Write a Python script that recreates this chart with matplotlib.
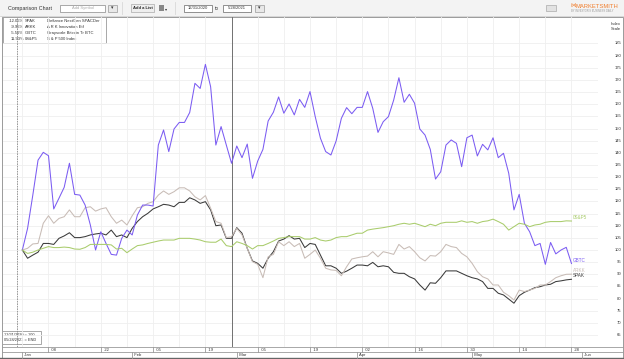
import numpy as np
import pandas as pd
import matplotlib.pyplot as plt
from matplotlib.patches import Rectangle
from matplotlib.transforms import blended_transform_factory

# weekday slots Jan 1 .. May 28 2021 (base 12/31/2020 = 100)
dates = pd.bdate_range('2021-01-01', '2021-05-28')

gbtc = [100, 108.9, 122.6, 137.0, 140.2, 138.8, 116.9, 121.3, 125.8, 135.7,
        122.9, 122.6, 118.5, 110.3, 100.0, 107.5, 102.7, 98.2, 97.9, 104.8,
        108.2, 106.2, 114.4, 118.5, 118.5, 118.1, 143.2, 149.4, 140.5, 149.8,
        152.5, 152.5, 156.6, 168.6, 166.5, 176.4, 167.2, 143.2, 150.8, 143.2,
        135.7, 142.8, 138.0, 143.6, 129.5, 136.6, 141.4, 153.1, 156.7, 163.0,
        156.3, 160.1, 155.6, 162.0, 158.7, 165.2, 154.9, 146.0, 140.5, 139.1,
        144.9, 154.2, 158.6, 156.1, 158.7, 158.7, 165.2, 158.3, 148.4, 152.8,
        154.9, 161.7, 170.9, 160.8, 164.1, 160.4, 149.8, 147.3, 141.4, 129.2,
        132.2, 143.2, 145.3, 143.9, 134.3, 146.2, 147.3, 138.7, 143.5, 141.2,
        146.2, 138.0, 139.8, 131.6, 116.5, 122.9, 111.0, 107.5, 101.8, 102.7,
        94.1, 103.1, 98.4, 100.0, 101.1, 94.44]

arkk = [100, 100.7, 102.5, 102.7, 111.0, 114.1, 111.0, 113.0, 113.7, 116.5,
        113.7, 113.7, 117.4, 117.8, 116.0, 116.9, 117.4, 113.7, 111.0, 112.3,
        110.3, 114.1, 117.4, 117.8, 119.2, 119.9, 122.6, 124.3, 122.9, 124.0,
        125.6, 125.6, 124.3, 121.9, 120.6, 122.4, 117.2, 111.7, 111.0, 105.1,
        105.5, 108.9, 106.2, 100.7, 95.2, 94.1, 88.6, 97.2, 98.2, 103.4,
        101.8, 103.4, 101.4, 102.7, 96.6, 98.2, 100.0, 96.6, 92.5, 91.8,
        91.6, 89.4, 93.1, 96.3, 96.8, 97.2, 97.5, 99.3, 97.2, 99.3,
        98.8, 98.2, 102.3, 100.4, 101.4, 99.3, 96.8, 95.5, 97.7, 97.5,
        99.3, 102.3, 101.4, 101.0, 98.6, 97.2, 94.5, 91.1, 89.0, 88.1,
        85.6, 85.6, 82.6, 81.2, 79.4, 83.5, 82.9, 83.5, 84.2, 85.6,
        85.6, 87.0, 88.6, 89.4, 90.0, 90.05]

spak = [100, 96.6, 97.9, 99.1, 102.7, 102.7, 102.3, 104.8, 105.8, 107.1,
        105.1, 105.1, 105.5, 106.2, 106.6, 106.9, 106.2, 108.2, 105.5, 106.2,
        105.1, 108.9, 111.7, 113.7, 115.1, 116.9, 117.8, 118.8, 118.5, 117.8,
        119.6, 119.6, 121.5, 120.6, 119.2, 119.9, 116.5, 110.0, 110.3, 104.8,
        104.8, 109.2, 106.9, 100.7, 95.5, 94.5, 92.5, 96.6, 99.3, 103.7,
        104.5, 105.9, 104.5, 104.8, 101.0, 102.7, 102.3, 97.9, 93.5, 93.5,
        92.5, 90.4, 91.3, 92.5, 93.8, 93.8, 93.5, 94.9, 93.1, 93.5,
        93.1, 90.8, 90.4, 90.4, 89.0, 88.1, 85.6, 83.5, 86.5, 86.3,
        88.6, 91.4, 91.4, 91.4, 90.4, 89.4, 88.6, 88.1, 87.0, 84.2,
        84.2, 82.2, 81.5, 79.8, 78.1, 81.2, 82.6, 83.5, 84.5, 84.9,
        85.6, 85.9, 87.0, 87.3, 87.7, 87.95]

spx = [100, 98.6, 99.1, 100.0, 100.7, 101.4, 101.0, 101.0, 101.2, 101.0,
       100.4, 100.3, 101.0, 102.3, 102.3, 102.3, 102.3, 102.1, 100.4, 100.7,
       98.9, 100.4, 101.8, 102.1, 102.7, 103.2, 103.7, 104.1, 104.1, 104.1,
       104.8, 104.8, 104.8, 104.5, 104.1, 103.4, 103.2, 103.2, 104.5, 101.8,
       101.4, 103.4, 102.7, 101.8, 100.4, 101.8, 101.8, 102.7, 103.7, 104.8,
       105.1, 105.5, 105.5, 105.5, 104.5, 104.5, 105.1, 104.1, 103.7, 104.1,
       105.1, 105.5, 105.5, 106.2, 106.9, 106.9, 108.2, 108.6, 108.9, 109.2,
       109.6, 110.0, 110.6, 111.0, 110.6, 111.0, 110.3, 109.6, 110.6, 110.0,
       111.0, 111.4, 111.4, 111.4, 112.0, 111.4, 111.7, 111.0, 111.7, 112.0,
       112.7, 111.7, 110.6, 108.2, 109.6, 111.0, 110.6, 109.6, 110.3, 110.6,
       111.4, 111.7, 111.7, 111.7, 112.0, 111.93]

tickers = ['SPAK', 'ARKK', 'GBTC', '0S&P5']
names = ['Defiance NextGen SPACDer', 'A R K Innovation Etf',
         'Grayscale Bitcoin Tr BTC', 'S & P 500 Index']
changes = ['-12.05%', '-9.95%', '-5.56%', '11.93%']
colors = ['#3a3a3a', '#c8bcb6', '#7b5cf2', '#a9cc6c']
series = [spak, arkk, gbtc, spx]

y_ticks = list(range(65, 190, 5))
day_ticks = pd.date_range('2021-01-08', '2021-05-28', freq='14D')
week_lines = pd.date_range('2021-01-08', '2021-06-04', freq='7D')
month_starts = pd.to_datetime(['2021-01-01', '2021-02-01', '2021-03-01',
                               '2021-04-01', '2021-05-03', '2021-06-01'])


def slot(d):
    # weekday count from the base date
    d = pd.DatetimeIndex(d).values.astype('datetime64[D]')
    return np.busday_count(np.datetime64('2020-12-31'), d)


x = slot(dates)

plt.rcParams['font.family'] = ['Liberation Sans', 'DejaVu Sans']
TXT = '#333333'
FS = 3.0

W, H = 624, 359
fig = plt.figure(figsize=(W / 100, H / 100), dpi=100)

bg = fig.add_axes([0, 0, 1, 1])
bg.set_xlim(0, W)
bg.set_ylim(H, 0)
bg.axis('off')

# plot area in pixels
L, R, T, B = 3, 598, 17, 346.7
ax = fig.add_axes([L / W, (H - B) / H, (R - L) / W, (B - T) / H])
ax.set_xlim(-2.7, 111.07)
ax.set_ylim(60.2, 195.9)
ax.axis('off')

for v in y_ticks:
    ax.axhline(v, color='#efefef', lw=0.6, zorder=0)
for d in slot(week_lines):
    ax.axvline(d, color='#efefef', lw=0.6, zorder=0)
ax.axvline(1, color='#efefef', lw=0.6, zorder=0)
ax.axvline(0, color='#8a8a8a', lw=0.6, ls=(0, (2, 1)), zorder=1)
ax.axvline(slot(['2021-02-26'])[0], color='#707070', lw=0.7, zorder=1)

for vals, c, t in zip(series, colors, tickers):
    ax.plot(x, vals, color=c, lw=0.75, zorder=3)
    ax.annotate(t, (x[-1], vals[-1]), xytext=(1.2, 2.4),
                textcoords='offset points', color=c, fontsize=FS + 0.3,
                va='center', ha='left')

# right index scale
ytr = blended_transform_factory(bg.transData, ax.transData)
for v in y_ticks:
    bg.text(621, v, str(v), transform=ytr, fontsize=FS, ha='right',
            va='center', color=TXT)
bg.text(621, 22, 'Index\nScale', fontsize=FS, ha='right', va='top',
        color=TXT, linespacing=1.5)

# frame
bg.add_patch(Rectangle((1.5, 16.5), 621.5, 341, fill=False,
                       ec='#9a9a9a', lw=0.7))

# date axis
xtr = blended_transform_factory(ax.transData, bg.transData)
bg.plot([1.5, 623], [346.7, 346.7], color='#9a9a9a', lw=0.6)
bg.plot([1.5, 623], [352.3, 352.3], color='#9a9a9a', lw=0.6)
bg.plot([0, 624], [358.4, 358.4], color='#666666', lw=1.0)
for d, s in zip(day_ticks, slot(day_ticks)):
    bg.plot([s, s], [346.7, 352.3], color='#9a9a9a', lw=0.6, transform=xtr)
    bg.text(s, 349.7, '   ' + d.strftime('%d'), fontsize=FS, transform=xtr,
            va='center', ha='left', color=TXT)
for d, s in zip(month_starts, slot(month_starts)):
    bg.plot([s, s], [352.3, 358], color='#9a9a9a', lw=0.6, transform=xtr)
    bg.text(s, 355.4, '  ' + d.strftime('%b'), fontsize=FS, transform=xtr,
            va='center', ha='left', color=TXT)

# legend box
bg.add_patch(Rectangle((3, 17), 103, 26, fc='white', ec='#9a9a9a', lw=0.6,
                       zorder=5))
for i, (ch, t, n) in enumerate(zip(changes, tickers, names)):
    yy = 21 + i * 6.1
    bg.text(24, yy, ch, fontsize=FS, ha='right', va='center', zorder=6,
            color=TXT)
    bg.text(25, yy, t, fontsize=FS, ha='left', va='center', zorder=6,
            color=TXT)
    bg.text(47, yy, n, fontsize=FS, ha='left', va='center', zorder=6,
            color=TXT)

bg.add_patch(Rectangle((2, 331), 39, 12.5, fc='white', ec='#9a9a9a', lw=0.6,
                       zorder=5))
bg.text(4, 334.5, '12/31/2020 = 100', fontsize=FS - 0.2, va='center',
        zorder=6, color=TXT)
bg.text(4, 340, '05/28/2021 = END', fontsize=FS - 0.2, va='center', zorder=6,
        color=TXT)

# header bar
bg.add_patch(Rectangle((0, 0), W, 16, fc='#f3f3f3', ec='none', zorder=0))
bg.plot([0, W], [15.5, 15.5], color='#d0d0d0', lw=0.6)
bg.text(8, 8.3, 'Comparison Chart', fontsize=3.9, va='center', color=TXT)
bg.add_patch(Rectangle((60, 4.5), 45, 7, fc='white', ec='#888888', lw=0.5))
bg.text(82.5, 8, 'Add Symbol', fontsize=FS, va='center', ha='center',
        color='#aaaaaa')
bg.add_patch(Rectangle((108, 4.5), 9, 7, fc='#e8e8e8', ec='#999999', lw=0.5))
bg.text(112.5, 8, '▾', fontsize=3.5, va='center', ha='center', color=TXT,
        family='DejaVu Sans')
bg.plot([122, 122], [2, 14], color='#d8d8d8', lw=0.6)
bg.add_patch(Rectangle((131, 4), 23, 8, fc='#eeeeee', ec='#aaaaaa', lw=0.5))
bg.text(142.5, 8, 'Add a List', fontsize=FS, va='center', ha='center',
        color='#222222', fontweight='bold')
bg.add_patch(Rectangle((159, 4.5), 5, 6, fc='#888888', ec='none'))
bg.text(166.5, 9, '▾', fontsize=3, va='center', ha='center', color=TXT,
        family='DejaVu Sans')
bg.plot([175, 175], [2, 14], color='#d8d8d8', lw=0.6)
bg.add_patch(Rectangle((184, 4.5), 28, 7, fc='white', ec='#666666', lw=0.5))
bg.text(198, 8, '12/31/2020', fontsize=FS, va='center', ha='center',
        color=TXT)
bg.text(217, 8, 'to', fontsize=3.3, va='center', ha='center', color=TXT)
bg.add_patch(Rectangle((223, 4.5), 28, 7, fc='white', ec='#666666', lw=0.5))
bg.text(237, 8, '5/28/2021', fontsize=FS, va='center', ha='center',
        color=TXT)
bg.add_patch(Rectangle((255, 4.5), 9, 7, fc='#e8e8e8', ec='#999999', lw=0.5))
bg.text(259.5, 8, '▾', fontsize=3.5, va='center', ha='center', color=TXT,
        family='DejaVu Sans')
bg.add_patch(Rectangle((546, 4.5), 10, 6.5, fc='#e2e2e2', ec='#aaaaaa',
                       lw=0.5))
bg.text(570, 6.5, '⋈', fontsize=4, va='center', ha='left', color='#f07d2c',
        family='DejaVu Sans')
bg.text(575, 6.5, 'MARKETSMITH', fontsize=4.2, va='center', ha='left',
        color='#f07d2c')
bg.text(571, 11.3, 'BY INVESTOR\'S BUSINESS DAILY', fontsize=1.9,
        va='center', ha='left', color='#999999')

fig.savefig('out.png', dpi=100)
